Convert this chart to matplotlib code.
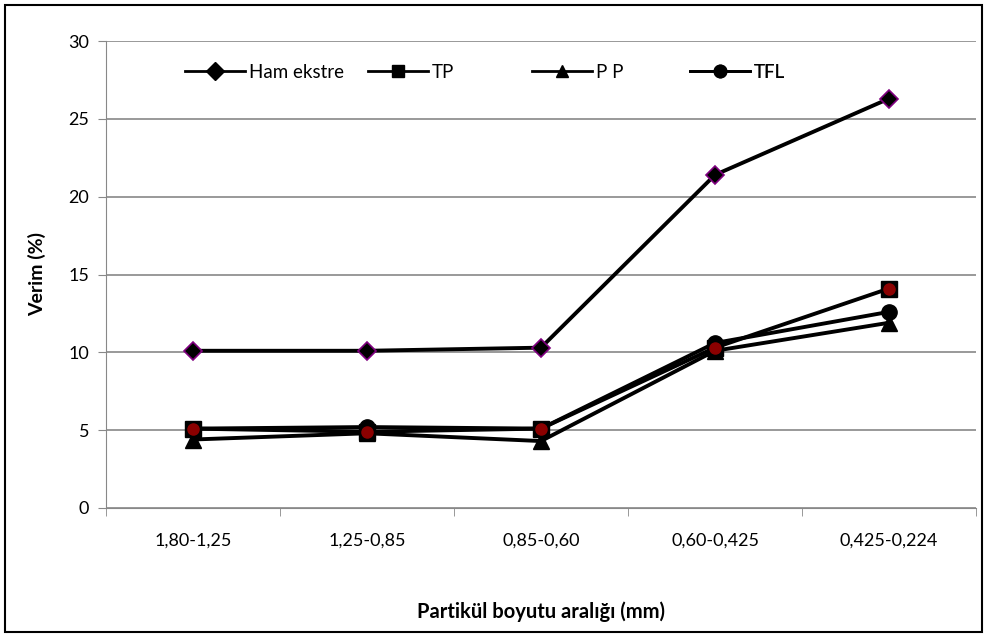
import numpy as np
import matplotlib
matplotlib.use("Agg")
import matplotlib.pyplot as plt
from matplotlib.patches import Rectangle
from matplotlib.lines import Line2D

plt.rcParams['font.family'] = ['Lato', 'DejaVu Sans']

categories = ["1,80-1,25", "1,25-0,85", "0,85-0,60", "0,60-0,425", "0,425-0,224"]
ham_ekstre = [10.1, 10.1, 10.3, 21.4, 26.3]
tp = [5.1, 4.9, 5.1, 10.3, 14.1]
pp = [4.4, 4.8, 4.3, 10.1, 11.9]
tfl = [5.1, 5.2, 5.1, 10.6, 12.6]
names = ["Ham ekstre", "TP", "P P", "TFL"]

x = np.arange(len(categories))

fig = plt.figure(figsize=(9.87, 6.37), dpi=100)
ax = fig.add_axes([106/987, 1 - 508/637, 870/987, 467/637])

ax.plot(x, ham_ekstre, "-D", color="black", lw=2.8, ms=9,
        mfc="black", mec="purple", mew=1.2, zorder=3)
ax.plot(x, tp, "-s", color="black", lw=2.8, ms=11, zorder=3)
ax.plot(x, pp, "-^", color="black", lw=2.8, ms=11, zorder=3)
ax.plot(x, tfl, "-o", color="black", lw=2.8, ms=11, zorder=3)
# dark red dots sitting on the TP markers
ax.plot(x, tp, "o", color="#8b0000", ms=8, zorder=4)

ax.set_xlim(-0.5, len(categories) - 0.5)
ax.set_ylim(0, 30)
ax.set_yticks(np.arange(0, 31, 5))
ax.set_xticks(np.arange(-0.5, len(categories), 1.0), minor=True)
ax.set_xticks(x)
ax.set_xticklabels(categories, fontsize=13)
ax.tick_params(axis="x", which="major", length=0, pad=18)
ax.tick_params(axis="x", which="minor", length=6, color="#888888")
ax.tick_params(axis="y", length=6, color="#888888", labelsize=13, pad=6)

ax.grid(True, axis="y", color="#888888", lw=1.2)
ax.set_axisbelow(True)
for side in ["top", "right"]:
    ax.spines[side].set_visible(False)
ax.spines["left"].set_color("#888888")
ax.spines["bottom"].set_color("#888888")

ax.set_ylabel("Verim (%)", fontsize=14, fontweight="bold", labelpad=16)
fig.text(541/987, 1 - 612/637, "Partikül boyutu aralığı (mm)", fontsize=14.5,
         fontweight="bold", ha="center", va="center")

# legend entries spread across the top like the original
markers = ["D", "s", "^", "o"]
lefts = [185, 368, 532, 690]
for name, m, left in zip(names, markers, lefts):
    h = Line2D([], [], color="black", lw=2, marker=m, ms=9, mfc="black", mec="black")
    leg = ax.legend(handles=[h], labels=[name], loc="center left",
                    bbox_to_anchor=(left/987, 1 - 72/637), bbox_transform=fig.transFigure,
                    frameon=False, fontsize=13.5, handlelength=3.2, handletextpad=0.2,
                    borderpad=0, borderaxespad=0)
    ax.add_artist(leg)

fig.patches.append(Rectangle((5/987, 5/637), 977/987, 627/637, transform=fig.transFigure,
                             fill=False, edgecolor="black", lw=1.5))

fig.savefig("out.png", dpi=100)
